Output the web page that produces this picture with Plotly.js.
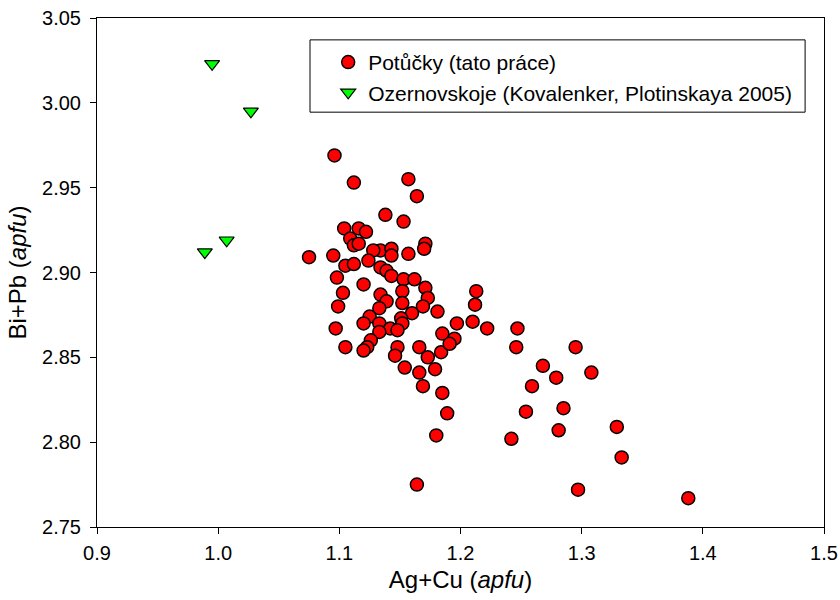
<!DOCTYPE html>
<html>
<head>
<meta charset="utf-8">
<script src="https://cdn.plot.ly/plotly-3.0.1.min.js"></script>
<style>html,body{margin:0;padding:0;background:#fff;}#chart{width:840px;height:600px;}</style>
</head>
<body>
<div id="chart"></div>
<script>
const potuckyName = "Potůčky (tato práce)";
const potuckyX = [1.096,1.112,1.157,1.164,1.138,1.153,1.104,1.116,1.122,1.109,1.112,1.116,1.171,1.170,1.157,1.134,1.143,1.143,1.128,1.075,1.095,1.124,1.105,1.112,1.134,1.139,1.143,1.098,1.120,1.153,1.162,1.171,1.152,1.103,1.134,1.099,1.139,1.152,1.173,1.169,1.133,1.160,1.181,1.125,1.120,1.133,1.151,1.152,1.142,1.148,1.133,1.097,1.126,1.123,1.105,1.120,1.148,1.146,1.166,1.173,1.184,1.154,1.166,1.179,1.169,1.185,1.189,1.180,1.164,1.197,1.185,1.195,1.191,1.213,1.212,1.210,1.222,1.247,1.246,1.295,1.268,1.279,1.308,1.259,1.254,1.285,1.281,1.329,1.242,1.333,1.297,1.388];
const potuckyY = [2.969,2.953,2.955,2.945,2.934,2.930,2.926,2.926,2.924,2.920,2.916,2.917,2.917,2.914,2.911,2.913,2.914,2.910,2.913,2.909,2.910,2.907,2.904,2.905,2.903,2.901,2.898,2.897,2.893,2.896,2.896,2.891,2.889,2.888,2.887,2.880,2.883,2.882,2.885,2.880,2.879,2.876,2.877,2.874,2.870,2.870,2.873,2.870,2.867,2.866,2.865,2.867,2.860,2.856,2.856,2.854,2.856,2.851,2.856,2.850,2.853,2.844,2.841,2.843,2.833,2.829,2.817,2.804,2.775,2.870,2.864,2.861,2.858,2.889,2.881,2.871,2.867,2.867,2.856,2.856,2.845,2.838,2.841,2.833,2.818,2.820,2.807,2.809,2.802,2.791,2.772,2.767];
const ozernName = "Ozernovskoje (Kovalenker, Plotinskaya 2005)";
const ozernX = [0.995,1.027,1.007,0.989];
const ozernY = [3.023,2.995,2.919,2.912];

const xTitle = "Ag+Cu (<i>apfu</i>)";
const yTitle = "Bi+Pb (<i>apfu</i>)";

const FONT = "'Liberation Sans', Arial, sans-serif";

const traces = [
  {x: potuckyX, y: potuckyY, name: potuckyName, type: 'scatter', mode: 'markers',
   marker: {symbol: 'circle', size: 13, color: '#ff0000', line: {color: '#000', width: 1.5}}},
  {x: ozernX, y: ozernY, name: ozernName, type: 'scatter', mode: 'markers',
   marker: {symbol: 'triangle-down', size: 13, color: '#00ff00', line: {color: '#000', width: 1.2}}}
];

const layout = {
  width: 840, height: 600,
  margin: {l: 97, r: 16, t: 18, b: 73},
  paper_bgcolor: '#fff', plot_bgcolor: '#fff',
  font: {family: FONT, size: 20, color: '#000'},
  showlegend: true,
  legend: {x: 0.318, y: 0.953, xanchor: 'left', yanchor: 'top', bgcolor: 'rgba(0,0,0,0)',
           borderwidth: 0, font: {family: FONT, size: 21, color: '#000'}},
  xaxis: {range: [0.9, 1.5], dtick: 0.1, tick0: 0.9, tickformat: '.1f', showgrid: false, zeroline: false,
          showline: true, linecolor: '#000', linewidth: 1, mirror: true, ticks: 'outside', ticklen: 6,
          tickcolor: '#000', tickfont: {size: 20}, ticklabelstandoff: 2,
          title: {text: xTitle, font: {size: 24}, standoff: 8}},
  yaxis: {range: [2.75, 3.05], dtick: 0.05, tick0: 2.75, tickformat: '.2f', showgrid: false, zeroline: false,
          showline: true, linecolor: '#000', linewidth: 1, mirror: true, ticks: 'outside', ticklen: 6,
          tickcolor: '#000', tickfont: {size: 20}, ticklabelstandoff: 5,
          title: {text: yTitle, font: {size: 24}, standoff: 8}},
  shapes: [
    {type: 'rect', xref: 'paper', yref: 'paper', x0: 0.293, x1: 0.974, y0: 0.815, y1: 0.957,
     line: {color: '#000', width: 1}, fillcolor: 'rgba(0,0,0,0)'}
  ]
};

Plotly.newPlot('chart', traces, layout, {displayModeBar: false, staticPlot: true});
</script>
</body>
</html>
